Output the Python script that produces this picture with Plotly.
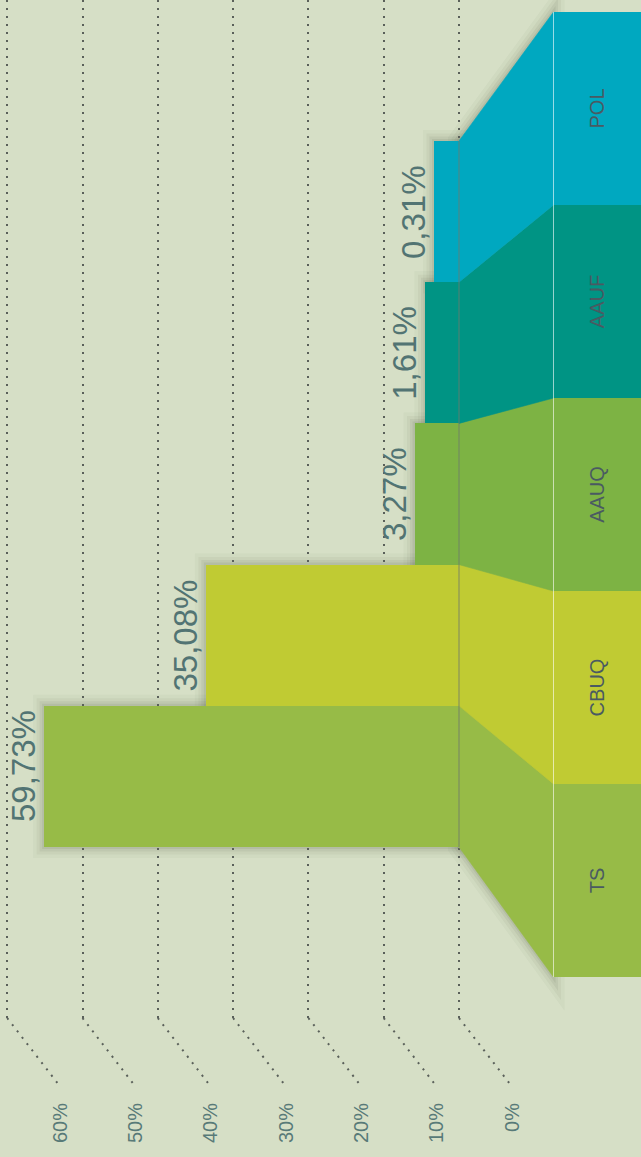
import plotly.graph_objects as go

# ---------------- data ----------------
categories = ["TS", "CBUQ", "AAUQ", "AAUF", "POL"]
shares = [59.73, 35.08, 3.27, 1.61, 0.31]
share_labels = ["59,73%", "35,08%", "3,27%", "1,61%", "0,31%"]
tick_values = [0, 10, 20, 30, 40, 50, 60]
tick_labels = ["0%", "10%", "20%", "30%", "40%", "50%", "60%"]

# ---------------- style ----------------
colors = ["#97bb47", "#c0cb33", "#7db344", "#009484", "#00a8c0"]
BG = "#d6dfc6"
GRID_COLOR = "#5a605a"
TICK_COLOR = "#587a78"
VALUE_COLOR = "#527473"
CAT_COLOR = "#4a5a62"
FONT = "Liberation Sans, Arial, sans-serif"
LABEL_YSHIFT = {"TS": 10}

# ---------------- geometry (pixels) ----------------
W, H = 641, 1157
GRID_ZERO_PX = 459          # 0 % gridline
GRID_PX_PER_UNIT = 7.53     # px per 1 %
PLOT_BOTTOM_PX = 1018       # where gridlines bend
DIAG_DX, DIAG_DY = 51, 66   # bend of gridlines
BAR_TOP_PX, BAR_BOTTOM_PX = 141, 847
BAR_STUB_PX = 23.0
BAR_PX_PER_UNIT = 6.56
BAND_LEFT_PX = 553
BAND_TOP_PX, BAND_BOTTOM_PX = 12, 977

n = len(categories)
bar_unit = (BAR_BOTTOM_PX - BAR_TOP_PX) / n
band_unit = (BAND_BOTTOM_PX - BAND_TOP_PX) / n
stub = BAR_STUB_PX / BAR_PX_PER_UNIT
bar_zero_px = GRID_ZERO_PX - BAR_STUB_PX


def py(px):
    return 1 - px / H


def px_x(px):
    return px / W


x_range = [GRID_ZERO_PX / GRID_PX_PER_UNIT, (GRID_ZERO_PX - W) / GRID_PX_PER_UNIT]
x3_range = [bar_zero_px / BAR_PX_PER_UNIT, (bar_zero_px - W) / BAR_PX_PER_UNIT]
y_range = [(BAR_BOTTOM_PX - PLOT_BOTTOM_PX) / bar_unit - 0.5, BAR_BOTTOM_PX / bar_unit - 0.5]

fig = go.Figure()

# value bars
fig.add_trace(go.Bar(
    y=categories, x=[v + stub for v in shares], base=[-stub] * n,
    orientation="h", width=1, marker=dict(color=colors, line=dict(width=0)),
    xaxis="x3", yaxis="y", hoverinfo="skip", showlegend=False,
))

# category band
fig.add_trace(go.Bar(
    y=categories, x=[1] * n, orientation="h", width=1,
    marker=dict(color=colors, line=dict(width=0)),
    text=categories, textposition="inside", insidetextanchor="middle",
    textangle=-90, textfont=dict(size=20, color=CAT_COLOR, family=FONT),
    xaxis="x2", yaxis="y2", hoverinfo="skip", showlegend=False,
))

shapes = []
SHADOW = [(22, 0.03), (15, 0.045), (9, 0.06), (4, 0.07)]


def halo(path=None, xref="paper", yref="paper", rect=None):
    for w, a in SHADOW:
        s = dict(layer="below", xref=xref, yref=yref,
                 line=dict(color=f"rgba(40,50,30,{a})", width=w),
                 fillcolor="rgba(0,0,0,0)")
        if rect:
            s.update(type="rect", x0=rect[0], x1=rect[1], y0=rect[2], y1=rect[3])
        else:
            s.update(type="path", path=path)
        shapes.append(s)


# shadows for bars and band
for i, v in enumerate(shares):
    halo(xref="x3", yref="y", rect=(-stub, v, i - 0.5, i + 0.5))
halo(xref="x2", yref="y2", rect=(0, 1.2, -0.5, n - 0.5))

# connectors
for i in range(n):
    bt = BAR_BOTTOM_PX - (i + 1) * bar_unit
    bb = BAR_BOTTOM_PX - i * bar_unit
    nt = BAND_BOTTOM_PX - (i + 1) * band_unit
    nb = BAND_BOTTOM_PX - i * band_unit
    x0, x1 = px_x(GRID_ZERO_PX), px_x(BAND_LEFT_PX + 0.5)
    path = f"M {x0},{py(bt)} L {x1},{py(nt)} L {x1},{py(nb)} L {x0},{py(bb)} Z"
    halo(path=path)
    shapes.append(dict(type="path", path=path, xref="paper", yref="paper",
                       layer="above", fillcolor=colors[i],
                       line=dict(width=0.6, color=colors[i])))

# gridline bends
for v in tick_values:
    x_end = v - DIAG_DX / GRID_PX_PER_UNIT
    shapes.append(dict(type="path", xref="x", yref="paper", layer="below",
                       path=f"M {v},{py(PLOT_BOTTOM_PX)} L {x_end},{py(PLOT_BOTTOM_PX + DIAG_DY)}",
                       line=dict(color=GRID_COLOR, width=2, dash="2px,6px")))

# solid baseline over bars
shapes.append(dict(type="line", xref="x", yref="y", x0=0, x1=0, y0=-0.5, y1=n - 0.5,
                   layer="above", line=dict(color="rgba(110,120,110,0.8)", width=1)))
# white band edge
shapes.append(dict(type="line", xref="x2", yref="y2", x0=0, x1=0, y0=-0.5, y1=n - 0.5,
                   layer="above", line=dict(color="rgba(255,255,255,0.75)", width=1.6)))

annotations = []
for c, v, lab in zip(categories, shares, share_labels):
    annotations.append(dict(
        xref="x3", yref="y", x=v, y=c, text=lab, showarrow=False,
        textangle=-90, xanchor="right", yanchor="middle", xshift=0,
        yshift=LABEL_YSHIFT.get(c, 0),
        font=dict(size=33, color=VALUE_COLOR, family=FONT),
    ))

fig.update_layout(
    width=W, height=H, margin=dict(l=0, r=0, t=0, b=0),
    paper_bgcolor=BG, plot_bgcolor="rgba(0,0,0,0)",
    barmode="overlay", bargap=0,
    font=dict(family=FONT),
    shapes=shapes, annotations=annotations,
    xaxis=dict(domain=[0, 1], range=x_range, anchor="y",
               tickvals=tick_values, ticktext=tick_labels, tickangle=-90,
               tickfont=dict(size=20, color=TICK_COLOR, family=FONT),
               ticklabelstandoff=80, ticklabelshift=-53,
               showgrid=True, gridcolor=GRID_COLOR, gridwidth=2, griddash="2px,6px",
               zeroline=False, showline=False, ticks=""),
    xaxis3=dict(range=x3_range, overlaying="x", anchor="y", visible=False),
    yaxis=dict(domain=[py(PLOT_BOTTOM_PX), 1], range=y_range, type="category",
               categoryorder="array", categoryarray=categories,
               visible=False),
    xaxis2=dict(domain=[px_x(BAND_LEFT_PX), 1], range=[0, 1], anchor="y2", visible=False),
    yaxis2=dict(domain=[py(BAND_BOTTOM_PX), py(BAND_TOP_PX)], range=[-0.5, n - 0.5],
                type="category", categoryorder="array", categoryarray=categories,
                anchor="x2", visible=False),
)

fig.write_html("out.html", config={"displayModeBar": False},
               post_script="document.body.style.margin='0';document.body.style.overflow='hidden';")
